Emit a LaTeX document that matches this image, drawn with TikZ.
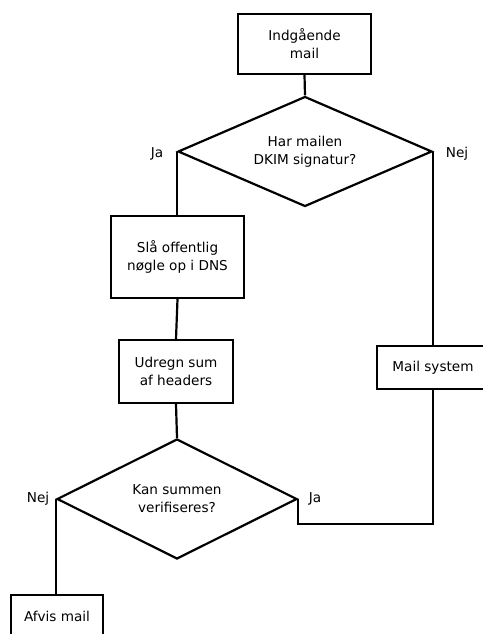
\documentclass[tikz,border=0pt]{standalone}
\usepackage{fontspec}
\setmainfont{DejaVu Sans}
\usetikzlibrary{shapes.geometric}
\begin{document}
\begin{tikzpicture}[x=1pt,y=-1pt,
  every node/.style={font=\fontsize{13.6}{17.8}\selectfont, align=center, inner sep=0pt},
  box/.style={draw, line width=2.2pt, rectangle},
  dia/.style={draw, line width=2.2pt, diamond},
  conn/.style={line width=2.2pt},
  lbl/.style={}]
\useasboundingbox (0,0) rectangle (482,634);
\fill[white] (0,0) rectangle (482,634);
\node[box, minimum width=133pt, minimum height=60pt] (in) at (304.5,44) {Indgående\\mail};
\node[dia, aspect=2.3, minimum width=254pt, minimum height=110pt] (d1) at (305,151.5) {Har mailen\\DKIM signatur?};
\node[box, minimum width=133pt, minimum height=82pt] (b2) at (177.5,257) {Slå offentlig\\nøgle op i DNS};
\node[box, minimum width=114pt, minimum height=63pt] (b3) at (176,371.5) {Udregn sum\\af headers};
\node[dia, aspect=2, minimum width=240pt, minimum height=120pt] (d2) at (177,499) {Kan summen\\verifiseres?};
\node[box, minimum width=112pt, minimum height=43pt] (ms) at (433,367.5) {Mail system};
\node[box, minimum width=92pt, minimum height=43pt] (af) at (57,616.5) {Afvis mail};
\node[lbl] (l1) at (157,154) {Ja};
\node[lbl] (l2) at (457,154) {Nej};
\node[lbl] (l3) at (38,498.5) {Nej};
\node[lbl] (l4) at (315,498.5) {Ja};
\draw[conn] (in.south) -- (d1.north);
\draw[conn] (d1.west) -- (d1.west |- b2.north);
\draw[conn] (b2.south) -- (b3.north);
\draw[conn] (b3.south) -- (d2.north);
\draw[conn] (d1.east) -- (d1.east |- ms.north);
\draw[conn] (d2.east) -- ++(0,25) -| (ms.south);
\draw[conn] (d2.west) -- (d2.west |- af.north);
\end{tikzpicture}
\end{document}
